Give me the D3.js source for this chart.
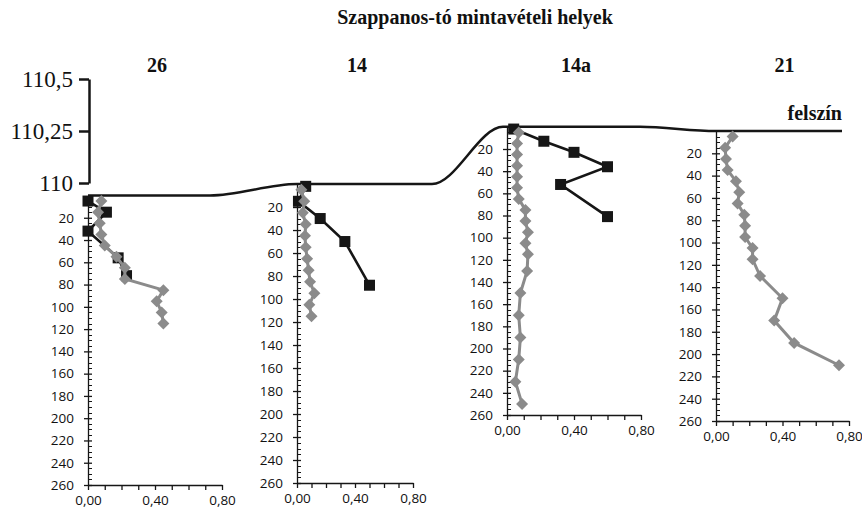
<!DOCTYPE html>
<html>
<head>
<meta charset="utf-8">
<script src="https://cdn.jsdelivr.net/npm/d3@7/dist/d3.min.js"></script>
<style>
    body { margin: 0; background: #ffffff; }
    svg { display: block; }
    .serif { font-family: "Liberation Serif", "DejaVu Serif", serif; fill: #111; }
    .panel .tick text { font-family: "Open Sans", "Liberation Sans", sans-serif; font-size: 13.5px; fill: #111; }
</style>
</head>
<body>
<svg id="chart" width="862" height="511"></svg>
<script>
// chart data
var titleText = "Szappanos-tó mintavételi helyek";
var surfaceLabel = "felszín";
var siteNames = ["26", "14", "14a", "21"];
var siteElev = [109.94, 109.995, 110.27, 110.25];
var elevTicks = [110, 110.25, 110.5];
var depthTicks = [20, 40, 60, 80, 100, 120, 140, 160, 180, 200, 220, 240, 260];
var valueTicks = [0, 0.4, 0.8];

// black squares
var depth26Black = [5, 15, 32, 56, 72];
var val26Black = [0.00, 0.11, 0.00, 0.18, 0.23];
var depth14Black = [2, 15, 30, 50, 88];
var val14Black = [0.06, 0.01, 0.16, 0.33, 0.50];
var depth14aBlack = [2, 13, 23, 36, 52, 81];
var val14aBlack = [0.04, 0.22, 0.40, 0.60, 0.32, 0.60];

// grey diamonds
var depth26Grey = [5, 15, 25, 35, 45, 55, 65, 75, 85, 95, 105, 115];
var val26Grey = [0.08, 0.06, 0.07, 0.08, 0.10, 0.17, 0.22, 0.22, 0.45, 0.41, 0.44, 0.45];
var depth14Grey = [5, 15, 25, 35, 45, 55, 65, 75, 85, 95, 105, 115];
var val14Grey = [0.03, 0.05, 0.04, 0.06, 0.055, 0.06, 0.07, 0.08, 0.09, 0.12, 0.085, 0.10];
var depth14aGrey = [5, 15, 25, 35, 45, 55, 65, 75, 85, 95, 105, 115, 130, 150, 170, 190, 210, 230, 250];
var val14aGrey = [0.07, 0.06, 0.06, 0.06, 0.06, 0.06, 0.07, 0.11, 0.11, 0.125, 0.11, 0.125, 0.12, 0.08, 0.07, 0.08, 0.07, 0.05, 0.09];
var depth21Grey = [5, 15, 25, 35, 45, 55, 65, 75, 85, 95, 105, 115, 130, 150, 170, 190, 210];
var val21Grey = [0.10, 0.055, 0.06, 0.07, 0.12, 0.14, 0.13, 0.17, 0.175, 0.175, 0.22, 0.22, 0.265, 0.40, 0.35, 0.47, 0.74];

var blackData = [[depth26Black, val26Black], [depth14Black, val14Black], [depth14aBlack, val14aBlack], null];
var greyData = [[depth26Grey, val26Grey], [depth14Grey, val14Grey], [depth14aGrey, val14aGrey], [depth21Grey, val21Grey]];

// layout of the four small plots
var panelLeft = [88, 297, 507, 716];
var panelWidth = [134, 116, 134, 133];
var panelBottom = [485, 483, 415, 421];
// where the surface line is flat for each site: [x start, x end]
var surfaceSpan = [[88, 210], [297, 432], [503, 640], [716, 842]];

var black = "#161616", grey = "#8b8b8b";

var svg = d3.select("#chart");

function comma(d) {
    return String(d).replace(".", ",");
}

// title
svg.append("text")
        .attr("class", "serif")
        .attr("x", 475)
        .attr("y", 24)
        .attr("text-anchor", "middle")
        .style("font-size", "20px")
        .style("font-weight", "bold")
        .text(titleText);

// elevation axis (m)
var elev = d3.scaleLinear().domain([110, 110.5]).range([183, 79]);

var elevAxis = svg.append("g")
        .attr("transform", "translate(89,0)")
        .call(d3.axisLeft(elev)
                .tickValues(elevTicks)
                .tickSize(10)
                .tickSizeOuter(0)
                .tickPadding(6)
                .tickFormat(comma));
elevAxis.select(".domain").attr("stroke", black).attr("stroke-width", 2.5);
elevAxis.selectAll(".tick line").attr("stroke", black).attr("stroke-width", 2.5);
elevAxis.selectAll(".tick text")
        .attr("class", "serif")
        .attr("dy", "0.34em")
        .style("font-size", "23px");

// surface line
var surfacePts = [];
surfaceSpan.forEach(function (s, i) {
    surfacePts.push([s[0], elev(siteElev[i])]);
    surfacePts.push([s[1], elev(siteElev[i])]);
});
svg.append("path")
        .datum(surfacePts)
        .attr("fill", "none")
        .attr("stroke", black)
        .attr("stroke-width", 2.5)
        .attr("d", d3.line().curve(d3.curveMonotoneX));

svg.append("text")
        .attr("class", "serif")
        .attr("x", 842)
        .attr("y", 120)
        .attr("text-anchor", "end")
        .style("font-size", "20px")
        .style("font-weight", "bold")
        .text(surfaceLabel);

// one plot per sampling site
siteNames.forEach(function (name, i) {
    var top = elev(siteElev[i]);
    var x = d3.scaleLinear().domain([0, 0.8]).range([panelLeft[i], panelLeft[i] + panelWidth[i]]);
    var y = d3.scaleLinear().domain([0, 260]).range([top, panelBottom[i]]);

    var g = svg.append("g").attr("class", "panel");

    // site label
    svg.append("text")
            .attr("class", "serif")
            .attr("x", panelLeft[i] + panelWidth[i] / 2 + 2)
            .attr("y", 72)
            .attr("text-anchor", "middle")
            .style("font-size", "20px")
            .style("font-weight", "bold")
            .text(name);

    // depth axis
    var yAxis = g.append("g")
            .attr("transform", "translate(" + panelLeft[i] + ",0)")
            .call(d3.axisLeft(y)
                    .tickValues(depthTicks)
                    .tickSize(4)
                    .tickSizeOuter(0)
                    .tickPadding(10));
    yAxis.selectAll(".tick line").attr("x2", 4).attr("x1", -4);
    yAxis.selectAll(".tick line, .domain").attr("stroke", black).attr("stroke-width", 1.3);

    // minor ticks
    g.selectAll("minor")
            .data(d3.range(5, 260, 5).filter(function (d) { return d % 20 != 0; }))
            .enter()
            .append("line")
            .attr("x1", panelLeft[i])
            .attr("x2", panelLeft[i] + 4)
            .attr("y1", function (d) { return Math.round(y(d)) + 0.5; })
            .attr("y2", function (d) { return Math.round(y(d)) + 0.5; })
            .attr("stroke", black)
            .attr("stroke-width", 1);

    // value axis
    var xAxis = g.append("g")
            .attr("transform", "translate(0," + panelBottom[i] + ")")
            .call(d3.axisBottom(x)
                    .tickValues(d3.range(0, 9).map(function (k) { return k / 10; }))
                    .tickSize(5)
                    .tickSizeOuter(0)
                    .tickPadding(5)
                    .tickFormat(function (d) {
                        var hit = valueTicks.some(function (v) { return Math.abs(v - d) < 1e-9; });
                        return hit ? comma(d3.format(".2f")(d)) : "";
                    }));
    xAxis.selectAll(".tick line, .domain").attr("stroke", black).attr("stroke-width", 1.3);

    var line = d3.line()
            .x(function (d) { return x(d.v); })
            .y(function (d) { return y(d.d); });

    // black series
    if (blackData[i]) {
        var bl = blackData[i][0].map(function (d, k) { return {d: d, v: blackData[i][1][k]}; });
        g.append("path")
                .datum(bl)
                .attr("fill", "none")
                .attr("stroke", black)
                .attr("stroke-width", 2.6)
                .attr("d", line);
        g.selectAll("sq")
                .data(bl)
                .enter()
                .append("rect")
                .attr("x", function (d) { return x(d.v) - 5.5; })
                .attr("y", function (d) { return y(d.d) - 5.5; })
                .attr("width", 11)
                .attr("height", 11)
                .attr("fill", black);
    }

    // grey series
    var gr = greyData[i][0].map(function (d, k) { return {d: d, v: greyData[i][1][k]}; });
    g.append("path")
            .datum(gr)
            .attr("fill", "none")
            .attr("stroke", grey)
            .attr("stroke-width", 3)
            .attr("d", line);
    g.selectAll("dm")
            .data(gr)
            .enter()
            .append("path")
            .attr("transform", function (d) { return "translate(" + x(d.v) + "," + y(d.d) + ")"; })
            .attr("d", "M0,-6L6,0L0,6L-6,0Z")
            .attr("fill", grey);
});
</script>
</body>
</html>
